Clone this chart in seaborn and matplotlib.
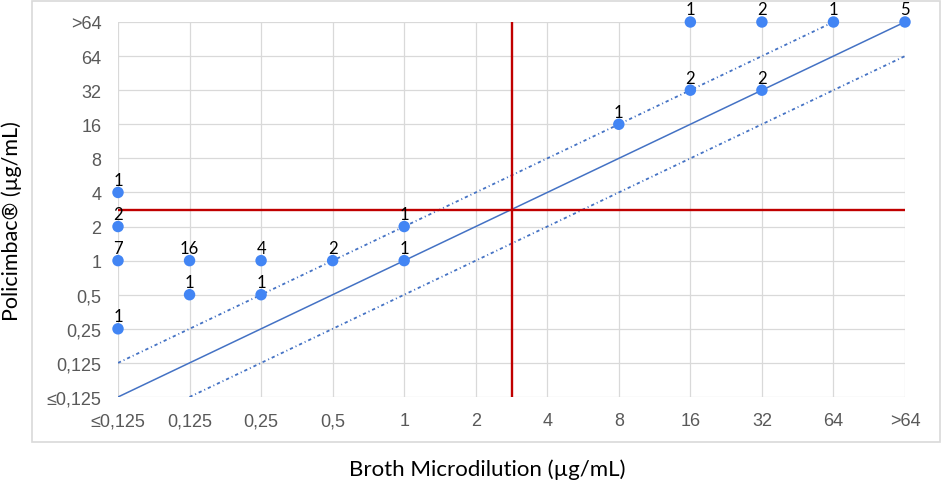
import matplotlib
matplotlib.use("Agg")
import matplotlib.pyplot as plt
import seaborn as sns
import pandas as pd
from matplotlib.patches import Rectangle

# Categories (log2 MIC classes)
x_categories = ["≤0,125", "0,125", "0,25", "0,5", "1", "2", "4", "8", "16", "32", "64", ">64"]
y_categories = ["≤0,125", "0,125", "0,25", "0,5", "1", "2", "4", "8", "16", "32", "64", ">64"]

# Observed (BMD, Policimbac) pairs with counts
bmd_values = ["≤0,125", "≤0,125", "≤0,125", "≤0,125", "0,125", "0,125", "0,25", "0,25", "0,5", "1", "1",
              "8", "16", "16", "32", "32", "64", ">64"]
pol_values = ["4", "2", "1", "0,25", "1", "0,5", "1", "0,5", "1", "2", "1",
              "16", ">64", "32", ">64", "32", ">64", ">64"]
counts = [1, 2, 7, 1, 16, 1, 4, 1, 2, 1, 1,
          1, 1, 2, 2, 2, 1, 5]

# Agreement lines (essential agreement ±1 dilution) as category pairs
diag_x = ["≤0,125", ">64"]
diag_y = ["≤0,125", ">64"]
upper_x = ["≤0,125", "64"]
upper_y = ["0,125", ">64"]
lower_x = ["0,125", ">64"]
lower_y = ["≤0,125", "64"]

# Breakpoint (between 2 and 4 µg/mL)
breakpoint_pos = 5.5

xi = {c: i for i, c in enumerate(x_categories)}
yi = {c: i for i, c in enumerate(y_categories)}

df = pd.DataFrame({
    "x": [xi[v] for v in bmd_values],
    "y": [yi[v] for v in pol_values],
    "n": counts,
})

sns.set_theme(style="white")
plt.rcParams["font.family"] = ["Liberation Sans", "DejaVu Sans"]

fig = plt.figure(figsize=(9.43, 4.85), dpi=100)
ax = fig.add_axes([118 / 943, 1 - 398 / 485, (905 - 118) / 943, (398 - 23) / 485])

# outer chart border
fig.patches.append(Rectangle((32 / 943, 1 - 443 / 485), (940 - 32) / 943, (443 - 2) / 485,
                             transform=fig.transFigure, fill=False, edgecolor="#D9D9D9", lw=1.2))

ax.set_xlim(0, len(x_categories) - 1)
ax.set_ylim(0, len(y_categories) - 1)
ax.set_xticks(range(len(x_categories)))
ax.set_xticklabels(x_categories)
ax.set_yticks(range(len(y_categories)))
ax.set_yticklabels(y_categories)
ax.grid(True, color="#D9D9D9", lw=0.9)
ax.set_axisbelow(True)
for s in ax.spines.values():
    s.set_visible(False)
ax.tick_params(axis="both", length=0, colors="#595959", labelsize=13)
ax.tick_params(axis="x", pad=11)
ax.tick_params(axis="y", pad=12)

line_col = "#4472C4"
dashdot = (0, (1.8, 1.6, 0.6, 1.6))
sns.lineplot(x=[xi[v] for v in diag_x], y=[yi[v] for v in diag_y], ax=ax, color=line_col, lw=1.1)
sns.lineplot(x=[xi[v] for v in upper_x], y=[yi[v] for v in upper_y], ax=ax, color=line_col, lw=1.3,
             linestyle=dashdot)
sns.lineplot(x=[xi[v] for v in lower_x], y=[yi[v] for v in lower_y], ax=ax, color=line_col, lw=1.3,
             linestyle=dashdot)

ax.axvline(breakpoint_pos, color="#C00000", lw=1.7)
ax.axhline(breakpoint_pos, color="#C00000", lw=1.7)

sns.scatterplot(data=df, x="x", y="y", ax=ax, color="#4285F4", s=68, edgecolor="none",
                clip_on=False, zorder=5, legend=False)

for _, r in df.iterrows():
    ax.annotate(str(r["n"]), (r["x"], r["y"]), xytext=(0, 5.5), textcoords="offset points",
                ha="center", va="baseline", fontsize=12, color="black", family=["Lato", "DejaVu Sans"],
                annotation_clip=False, zorder=6)

ax.set_xlabel("")
ax.set_ylabel("")
fig.text(487 / 943, 1 - 470 / 485, "Broth Microdilution (µg/mL)", ha="center", va="center",
         fontsize=16, color="black", family=["Lato", "DejaVu Sans"])
fig.text(12 / 943, 1 - 221 / 485, "Policimbac® (µg/mL)", ha="center", va="center", rotation=90,
         fontsize=15.5, color="black", family=["Lato", "DejaVu Sans"])

fig.savefig("out.png", dpi=100)
